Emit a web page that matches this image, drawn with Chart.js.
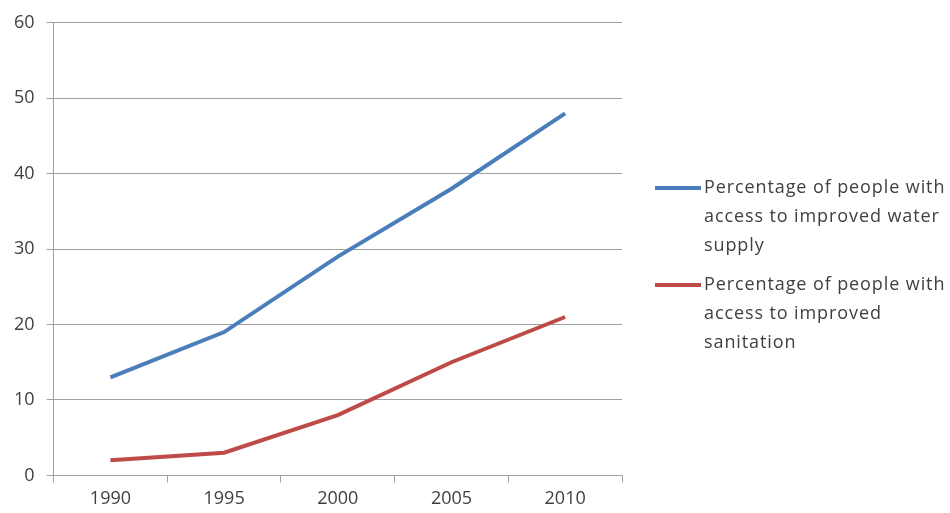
<!DOCTYPE html>
<html>
<head>
<meta charset="utf-8">
<script src="https://cdn.jsdelivr.net/npm/chart.js@4/dist/chart.umd.min.js"></script>
<style>
  body { margin: 0; background: #fff; overflow: hidden; }
  #wrap { position: relative; width: 950px; height: 513px; overflow: hidden; }
  #legend {
    position: absolute; left: 655px; top: 172px;
    font-family: "Open Sans", sans-serif; font-size: 18px; color: #404040;
    line-height: 29px; letter-spacing: 0.9px;
  }
  .item { position: relative; padding-left: 49px; margin-bottom: 10px; width: 244px; }
  .swatch { position: absolute; left: 0; top: 14px; width: 46px; height: 4px; }
</style>
</head>
<body>
<div id="wrap">
  <canvas id="chart" width="950" height="513"></canvas>
  <div id="legend"></div>
</div>
<script>
const years = ["1990", "1995", "2000", "2005", "2010"];
const waterSupply = [13, 19, 29, 38, 48];
const sanitation = [2, 3, 8, 15, 21];
const seriesNames = [
    "Percentage of people with access to improved water supply",
    "Percentage of people with access to improved sanitation"
];
const seriesColors = ["#4a7ebb", "#be4b48"];

const axisGrey = "#a0a0a0";
const textGrey = "#404040";

Chart.defaults.font.family = "'Open Sans', sans-serif";
Chart.defaults.font.size = 18;
Chart.defaults.color = textGrey;

const chart = new Chart(document.getElementById("chart"), {
    type: "line",
    data: {
        labels: years,
        datasets: [
            {
                label: seriesNames[0],
                data: waterSupply,
                borderColor: seriesColors[0],
                borderWidth: 4,
                pointRadius: 0,
                tension: 0
            },
            {
                label: seriesNames[1],
                data: sanitation,
                borderColor: seriesColors[1],
                borderWidth: 4,
                pointRadius: 0,
                tension: 0
            }
        ]
    },
    options: {
        responsive: false,
        animation: false,
        layout: { padding: { top: 14, right: 328, left: 2, bottom: -3 } },
        plugins: {
            legend: { display: false },
            tooltip: { enabled: false }
        },
        scales: {
            x: {
                offset: true,
                grid: {
                    offset: true,
                    drawOnChartArea: false,
                    drawTicks: true,
                    tickLength: 7,
                    color: axisGrey
                },
                border: { color: axisGrey, width: 1 },
                ticks: { padding: 6 }
            },
            y: {
                min: 0,
                max: 60,
                ticks: { stepSize: 10, padding: 12 },
                grid: {
                    color: axisGrey,
                    tickLength: 7
                },
                border: { color: axisGrey, width: 1 }
            }
        }
    }
});

/*
HTML legend with wrapped labels
*/
const legend = document.getElementById("legend");
seriesNames.forEach((name, i) => {
    const item = document.createElement("div");
    item.classList.add("item");
    item.innerHTML = `<span class="swatch" style="background:${seriesColors[i]}"></span>${name}`;
    legend.appendChild(item);
});
</script>
</body>
</html>
